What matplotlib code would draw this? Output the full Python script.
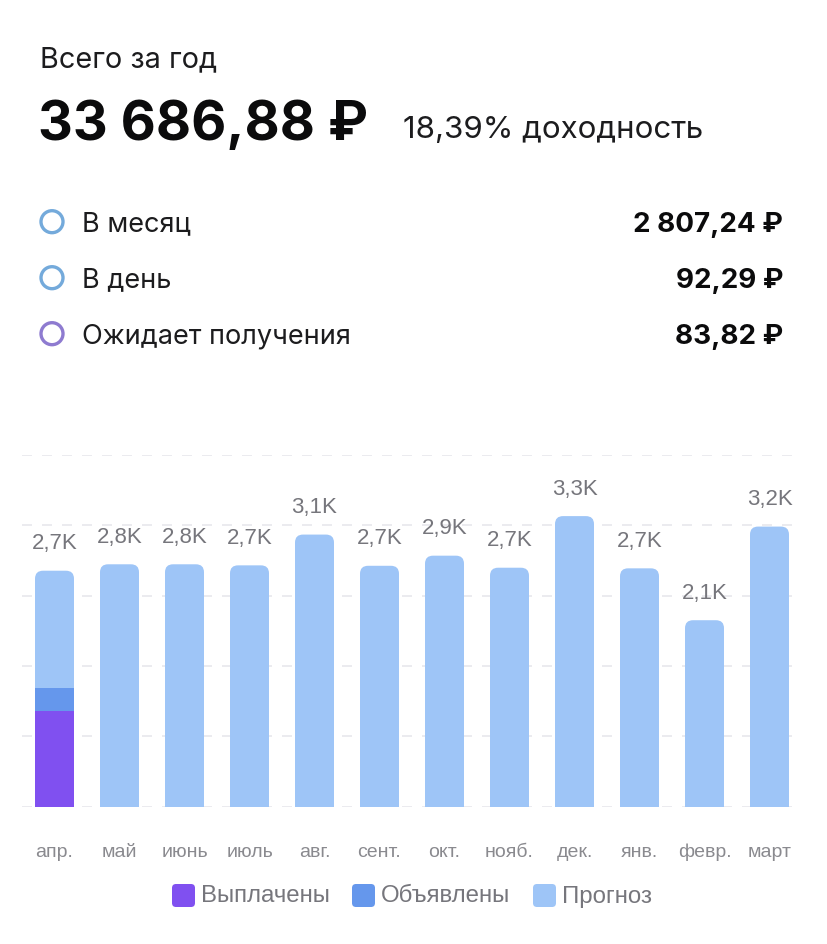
import matplotlib
matplotlib.use("Agg")
import matplotlib.pyplot as plt
from matplotlib.patches import FancyBboxPatch, Circle

# ---- data ----
months = ["апр.", "май", "июнь", "июль", "авг.", "сент.", "окт.", "нояб.", "дек.", "янв.", "февр.", "март"]
paid = [1085, 0, 0, 0, 0, 0, 0, 0, 0, 0, 0, 0]
declared = [270, 0, 0, 0, 0, 0, 0, 0, 0, 0, 0, 0]
forecast = [1329, 2757, 2757, 2745, 3095, 2740, 2855, 2718, 3305, 2711, 2121, 3186]
bar_labels = ["2,7K", "2,8K", "2,8K", "2,7K", "3,1K", "2,7K", "2,9K", "2,7K", "3,3K", "2,7K", "2,1K", "3,2K"]
legend_labels = ["Выплачены", "Объявлены", "Прогноз"]
y_ticks = [0, 800, 1600, 2400, 3200, 4000]

title = "Всего за год"
total_text = "33 686,88 ₽"
yield_text = "18,39% доходность"
rows = ["В месяц", "В день", "Ожидает получения"]
row_values = ["2 807,24 ₽", "92,29 ₽", "83,82 ₽"]

# ---- style ----
W, H = 827, 944
C_PAID = "#8050F0"
C_DECL = "#6597EC"
C_FORE = "#9EC5F7"
ROW_COLORS = ["#74AADB", "#74AADB", "#8E7BD0"]
HEAD = ["Inter", "DejaVu Sans"]
CHART = ["Liberation Sans", "DejaVu Sans"]
GRAY = "#76767c"

fig = plt.figure(figsize=(W / 100, H / 100), dpi=100)
fig.patch.set_facecolor("white")

# overlay axes in pixel coordinates for header and legend
ov = fig.add_axes([0, 0, 1, 1])
ov.set_xlim(0, W)
ov.set_ylim(H, 0)
ov.axis("off")

ov.text(40, 67.5, title, fontsize=20.8, family=HEAD, color="#1c1c1e", va="baseline", ha="left")
ov.text(38, 140, total_text, fontsize=39, family=HEAD, weight="bold", color="#0b0b0c",
        va="baseline", ha="left")
ov.text(403, 138, yield_text, fontsize=22.5, family=HEAD, color="#1c1c1e", va="baseline", ha="left")

row_y = [221.7, 277.7, 333.7]
for y, lab, val, col in zip(row_y, rows, row_values, ROW_COLORS):
    ov.add_patch(Circle((52, y), 11, fill=False, edgecolor=col, linewidth=2.4))
    ov.text(82, y + 9.5, lab, fontsize=19.5, family=HEAD, color="#1c1c1e", va="baseline", ha="left")
    ov.text(783, y + 10, val, fontsize=20, family=HEAD, weight="bold", color="#0b0b0c",
            va="baseline", ha="right")

# chart axes
left, right = 22, 802
base, top = 806.7, 455
ax = fig.add_axes([left / W, (H - base) / H, (right - left) / W, (base - top) / H])
ax.set_xlim(-0.5, 11.5)
ax.set_ylim(0, 4000)
for s in ax.spines.values():
    s.set_visible(False)
ax.set_yticks(y_ticks)
ax.set_yticklabels([])
ax.tick_params(axis="y", length=0)
ax.grid(axis="y", color="#e8e8ec", linestyle=(0, (6, 6)), linewidth=1.2)
ax.set_axisbelow(True)

x = list(range(len(months)))
width = 0.6
px_per_x = (right - left) / 12.0
px_per_y = (base - top) / 4000.0
r_px = 8
rx = r_px / px_per_x
ry = r_px / px_per_y

bottoms2 = [p + d for p, d in zip(paid, declared)]
totals = [b + f for b, f in zip(bottoms2, forecast)]

ax.bar(x, paid, width=width, color=C_PAID, linewidth=0)
ax.bar(x, declared, width=width, bottom=paid, color=C_DECL, linewidth=0)
ax.bar(x, [f - ry for f in forecast], width=width, bottom=bottoms2, color=C_FORE, linewidth=0)
for xi, t in zip(x, totals):
    ax.add_patch(FancyBboxPatch((xi - width / 2, t - 2 * ry), width, 2 * ry,
                                boxstyle=f"round,pad=0,rounding_size={rx}",
                                mutation_aspect=ry / rx, facecolor=C_FORE, edgecolor="none"))

for xi, t, lab in zip(x, totals, bar_labels):
    ax.annotate(lab, (xi, t), xytext=(0, 27 * 0.72), textcoords="offset points",
                ha="center", va="center", fontsize=16, family=CHART, color=GRAY)

ax.set_xticks(x)
ax.set_xticklabels(months, fontsize=14, family=CHART, color="#8a8a8f")
ax.tick_params(axis="x", length=0, pad=37 * 0.72)

# legend (drawn in pixel overlay)
leg_colors = [C_PAID, C_DECL, C_FORE]
leg_x = [172, 352, 533]
leg_y = 895.5
for lx, c, lab in zip(leg_x, leg_colors, legend_labels):
    ov.add_patch(FancyBboxPatch((lx, leg_y - 11.5), 23, 23,
                                boxstyle="round,pad=0,rounding_size=4",
                                facecolor=c, edgecolor="none"))
    ov.text(lx + 29, leg_y + 1, lab, fontsize=17.3, family=CHART, color=GRAY,
            va="center", ha="left")

fig.savefig("out.png", dpi=100, facecolor="white")
